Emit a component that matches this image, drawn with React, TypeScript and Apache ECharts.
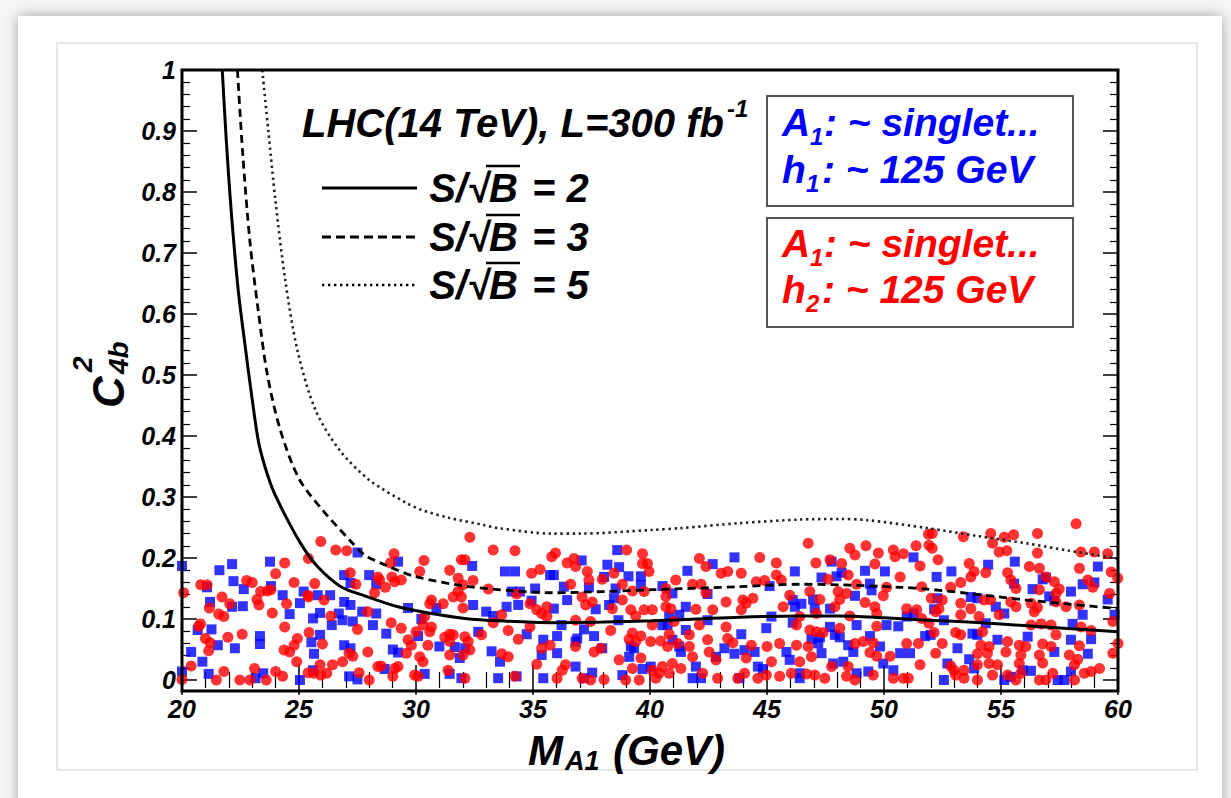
import React, { useEffect, useRef } from "react";
import * as echarts from "echarts";

// ---- data (M_A1 in GeV, C^2_4b) ----
const xTicks = [20, 25, 30, 35, 40, 45, 50, 55, 60];
const yTicks = [0, 0.1, 0.2, 0.3, 0.4, 0.5, 0.6, 0.7, 0.8, 0.9, 1];

const curveSB2: [number, number][] = [
  [21.72, 1.0], [21.9, 0.88], [22.1, 0.77], [22.4, 0.64], [22.69, 0.55], [23.0, 0.46], [23.3, 0.385],
  [23.8, 0.32], [24.29, 0.279], [25.07, 0.224], [25.79, 0.186], [26.79, 0.153], [27.8, 0.138],
  [29.23, 0.12], [30.66, 0.109], [32.09, 0.101], [33.51, 0.097], [35.8, 0.094], [38, 0.095],
  [40.1, 0.097], [42, 0.1], [43.82, 0.103], [46.4, 0.105], [48.1, 0.105], [50, 0.102],
  [51.85, 0.098], [53.6, 0.095], [56.1, 0.089], [58, 0.084], [60, 0.079],
];
const curveSB3: [number, number][] = [
  [22.37, 1.0], [22.6, 0.86], [22.9, 0.72], [23.26, 0.605], [23.65, 0.5], [24.2, 0.41],
  [25.0, 0.33], [26.0, 0.279], [27.2, 0.228], [27.8, 0.205], [28.6, 0.19], [29.94, 0.17],
  [32.09, 0.154], [34.23, 0.146], [35.8, 0.143], [38, 0.145], [40.1, 0.148], [43.82, 0.153],
  [46.4, 0.157], [48.1, 0.156], [50.7, 0.152], [51.85, 0.149], [53.6, 0.142], [56.1, 0.131],
  [58, 0.124], [60, 0.117],
];
const curveSB5: [number, number][] = [
  [23.43, 1.0], [23.69, 0.9], [23.99, 0.787], [24.41, 0.656], [24.93, 0.541], [25.7, 0.443],
  [26.73, 0.377], [28.0, 0.328], [29.6, 0.29], [30.23, 0.279], [31.4, 0.266], [32.9, 0.254],
  [33.5, 0.249], [35.8, 0.24], [37, 0.24], [40.1, 0.246], [41.3, 0.249], [43.8, 0.257],
  [46.4, 0.263], [48.1, 0.264], [49.3, 0.262], [51.85, 0.249], [54, 0.236], [56.1, 0.224],
  [57.9, 0.212], [60, 0.199],
];

// blue squares: A1 ~ singlet, h1 ~ 125 GeV
const blueH1: [number, number][] = [
  [20.0, 0.187], [22.14, 0.19], [21.6, 0.18], [23.76, 0.194], [22.2, 0.162], [21.07, 0.152], [22.64, 0.149],
  [23.8, 0.154], [21.2, 0.128], [22.14, 0.12], [22.6, 0.121], [24.3, 0.139], [25.2, 0.145], [24.6, 0.108],
  [25.04, 0.126], [25.8, 0.139], [26.33, 0.139], [25.9, 0.11], [25.6, 0.101], [26.93, 0.128], [27.2, 0.123],
  [26.7, 0.109], [26.4, 0.09], [26.86, 0.098], [27.3, 0.096], [27.7, 0.112], [27.5, 0.209], [26.93, 0.172],
  [27.2, 0.159], [20.67, 0.082], [21.26, 0.083], [21.53, 0.057], [20.39, 0.046], [20.87, 0.03], [22.26, 0.052],
  [23.33, 0.072], [23.33, 0.059], [21.14, 0.01], [20.0, 0.014], [23.47, 0.011], [23.14, 0.003], [25.04, 0.0],
  [25.53, 0.062], [25.9, 0.074], [25.64, 0.043], [25.6, 0.016], [26.93, 0.057], [27.2, 0.052], [27.14, 0.006],
  [27.5, 0.001],
  [28.0, 0.172], [28.3, 0.157], [29.23, 0.194], [28.3, 0.109], [28.16, 0.09], [28.73, 0.076], [29.01, 0.05],
  [29.23, 0.045], [29.66, 0.118], [30.23, 0.1], [30.87, 0.118], [30.09, 0.072], [31.0, 0.055], [31.66, 0.054],
  [32.1, 0.052], [31.87, 0.036], [32.4, 0.187], [32.44, 0.123], [32.66, 0.079], [33.0, 0.112], [33.3, 0.105],
  [33.8, 0.178], [34.23, 0.178], [33.87, 0.12], [34.09, 0.145], [34.44, 0.145], [34.37, 0.123], [34.94, 0.13],
  [35.09, 0.15], [34.73, 0.075], [35.44, 0.066], [35.37, 0.041], [35.73, 0.172], [30.37, 0.01], [31.44, 0.01],
  [31.94, 0.003], [33.51, 0.003], [34.3, 0.006], [35.44, 0.003], [28.66, 0.018], [33.59, 0.03], [33.23, 0.047],
  [38.6, 0.213], [37.08, 0.196], [38.18, 0.189], [38.68, 0.185], [35.89, 0.172], [36.32, 0.153], [37.39, 0.152],
  [38.04, 0.169], [38.53, 0.15], [39.08, 0.17], [39.61, 0.17], [39.61, 0.156], [36.46, 0.131], [37.68, 0.116],
  [35.89, 0.117], [38.46, 0.134], [38.25, 0.123], [38.65, 0.098], [36.22, 0.09], [36.03, 0.072], [37.18, 0.083],
  [37.61, 0.072], [36.89, 0.068], [36.82, 0.063], [36.03, 0.044], [37.96, 0.052], [39.11, 0.038], [39.32, 0.052],
  [39.18, 0.055], [40.53, 0.154], [40.96, 0.142], [40.75, 0.09], [40.82, 0.104], [41.25, 0.107], [41.53, 0.12],
  [41.6, 0.179], [40.96, 0.066], [41.25, 0.055], [41.32, 0.046], [41.53, 0.082], [42.46, 0.141], [42.68, 0.19],
  [43.61, 0.201], [42.46, 0.098], [43.18, 0.052], [43.61, 0.043], [42.82, 0.038], [40.53, 0.09], [36.82, 0.022],
  [37.18, 0.003], [37.53, 0.012], [38.82, 0.008], [39.68, 0.018], [40.03, 0.022], [41.96, 0.022], [41.82, 0.003],
  [42.18, 0.003], [43.82, 0.003],
  [46.19, 0.178], [45.11, 0.154], [47.33, 0.168], [47.97, 0.17], [48.19, 0.176], [49.19, 0.179], [50.04, 0.178],
  [51.26, 0.201], [47.76, 0.194], [49.4, 0.158], [49.47, 0.147], [48.76, 0.138], [46.1, 0.131], [46.47, 0.125],
  [46.19, 0.12], [46.97, 0.132], [47.04, 0.117], [47.69, 0.117], [45.19, 0.104], [44.97, 0.085], [46.1, 0.094],
  [47.69, 0.087], [47.9, 0.074], [48.11, 0.07], [47.26, 0.07], [47.19, 0.06], [46.9, 0.067], [48.83, 0.09],
  [49.4, 0.072], [50.11, 0.09], [50.61, 0.088], [50.97, 0.104], [51.26, 0.109], [51.76, 0.072], [43.9, 0.075],
  [44.04, 0.049], [44.47, 0.046], [44.61, 0.022], [44.83, 0.018], [45.97, 0.033], [45.83, 0.046], [47.33, 0.044],
  [48.47, 0.057], [48.69, 0.046], [48.26, 0.03], [47.83, 0.027], [48.83, 0.011], [49.33, 0.014], [49.83, 0.055],
  [49.97, 0.027], [50.4, 0.016], [50.69, 0.044], [51.11, 0.044], [46.4, 0.011], [46.4, 0.003],
  [52.25, 0.169], [52.88, 0.178], [54.45, 0.189], [55.59, 0.194], [56.78, 0.165], [56.92, 0.168], [59.14, 0.186],
  [58.49, 0.157], [58.99, 0.16], [57.99, 0.145], [56.35, 0.149], [55.56, 0.158], [52.28, 0.134], [52.14, 0.116],
  [53.71, 0.136], [53.99, 0.134], [57.06, 0.137], [54.78, 0.12], [55.14, 0.109], [59.56, 0.132], [59.85, 0.107],
  [58.49, 0.107], [57.28, 0.13], [52.56, 0.098], [54.35, 0.093], [58.06, 0.092], [53.78, 0.076], [53.99, 0.074],
  [51.99, 0.074], [53.14, 0.052], [54.85, 0.066], [56.14, 0.071], [57.99, 0.066], [58.85, 0.067], [57.28, 0.046],
  [58.71, 0.043], [53.64, 0.034], [52.71, 0.027], [55.92, 0.016], [56.28, 0.015], [52.56, 0.0], [55.14, 0.0],
  [57.42, 0.0], [57.99, 0.014], [53.85, 0.019], [55.42, 0.005], [57.71, 0.0],
];

// red circles: A1 ~ singlet, h2 ~ 125 GeV
const redH2: [number, number][] = [
  [20.07, 0.143], [20.8, 0.156], [21.07, 0.156], [21.71, 0.136], [22.04, 0.125], [21.17, 0.118], [21.57, 0.108],
  [21.79, 0.104], [20.79, 0.092], [20.71, 0.088], [21.0, 0.068], [21.2, 0.061], [21.96, 0.07], [22.57, 0.075],
  [21.14, 0.048], [20.39, 0.023], [20.0, 0.001], [21.47, 0.0], [21.79, 0.014], [22.47, 0.0], [22.9, 0.0],
  [23.1, 0.019], [23.6, 0.0], [24.0, 0.014], [24.3, 0.006], [22.76, 0.163], [23.0, 0.16], [23.36, 0.145],
  [23.64, 0.146], [23.8, 0.148], [23.2, 0.132], [23.29, 0.123], [24.0, 0.174], [24.39, 0.192], [24.79, 0.16],
  [24.47, 0.125], [23.86, 0.11], [24.39, 0.087], [24.93, 0.068], [24.79, 0.057], [24.36, 0.049], [24.6, 0.046],
  [24.9, 0.03], [25.39, 0.012], [25.64, 0.011], [25.93, 0.008], [26.19, 0.011], [26.43, 0.025], [25.9, 0.025],
  [25.39, 0.139], [25.4, 0.136], [25.67, 0.158], [26.07, 0.131], [25.4, 0.199], [25.93, 0.227], [26.57, 0.213],
  [27.04, 0.212], [27.19, 0.176], [27.43, 0.157], [25.43, 0.078], [26.0, 0.059], [26.86, 0.03], [27.14, 0.044],
  [27.3, 0.039], [27.5, 0.083], [27.57, 0.012], [26.36, 0.105],
  [32.3, 0.234], [33.3, 0.213], [34.23, 0.212], [29.06, 0.207], [28.91, 0.192], [30.34, 0.196], [31.94, 0.197],
  [32.09, 0.197], [31.44, 0.18], [30.16, 0.178], [28.37, 0.169], [28.44, 0.164], [28.97, 0.169], [29.37, 0.164],
  [29.09, 0.161], [28.69, 0.152], [28.23, 0.143], [31.8, 0.167], [32.44, 0.163], [32.01, 0.156], [33.09, 0.149],
  [30.66, 0.131], [30.59, 0.125], [31.16, 0.125], [31.59, 0.136], [31.94, 0.136], [31.8, 0.145], [32.01, 0.118],
  [27.94, 0.112], [28.94, 0.094], [29.37, 0.085], [30.37, 0.104], [30.3, 0.09], [30.66, 0.087], [30.59, 0.079],
  [29.66, 0.066], [30.0, 0.079], [29.8, 0.057], [30.51, 0.057], [31.23, 0.07], [31.44, 0.075], [31.59, 0.074],
  [31.44, 0.063], [32.09, 0.071], [32.23, 0.063], [32.8, 0.074], [32.3, 0.049], [32.01, 0.041], [31.44, 0.041],
  [29.59, 0.044], [30.16, 0.038], [30.3, 0.03], [27.94, 0.046], [28.37, 0.022], [28.51, 0.023], [29.09, 0.019],
  [29.23, 0.022], [29.01, 0.006], [28.0, 0.0], [29.94, 0.008], [30.09, 0.006], [31.37, 0.016], [32.09, 0.003],
  [33.3, 0.094], [33.66, 0.107], [33.94, 0.081], [34.37, 0.067], [33.66, 0.043], [33.94, 0.038], [34.3, 0.141],
  [34.87, 0.125], [34.94, 0.175], [35.3, 0.181], [35.8, 0.202], [35.16, 0.115], [35.37, 0.109], [35.59, 0.12],
  [35.59, 0.104], [34.87, 0.087], [35.73, 0.057], [35.37, 0.052], [35.16, 0.026], [34.23, 0.006],
  [35.96, 0.208], [36.46, 0.192], [36.75, 0.199], [36.82, 0.186], [37.32, 0.178], [37.39, 0.164], [37.96, 0.165],
  [39.0, 0.213], [39.68, 0.207], [39.68, 0.191], [39.89, 0.191], [39.96, 0.178], [38.46, 0.175], [38.82, 0.157],
  [36.61, 0.157], [39.25, 0.146], [39.75, 0.145], [38.82, 0.131], [39.18, 0.115], [39.75, 0.115], [40.1, 0.115],
  [39.39, 0.105], [38.39, 0.117], [37.1, 0.136], [37.25, 0.123], [37.53, 0.128], [36.82, 0.098], [37.46, 0.096],
  [38.32, 0.081], [39.25, 0.077], [39.61, 0.072], [39.11, 0.067], [39.39, 0.063], [40.03, 0.063], [40.1, 0.09],
  [36.82, 0.055], [37.61, 0.046], [37.89, 0.052], [38.68, 0.033], [39.61, 0.036], [39.25, 0.019], [40.1, 0.016],
  [40.39, 0.011], [40.53, 0.022], [40.25, 0.003], [39.54, 0.0], [38.96, 0.0], [38.04, 0.001], [37.46, 0.0],
  [37.1, 0.003], [36.39, 0.025], [36.25, 0.016], [36.03, 0.003], [40.68, 0.12], [40.68, 0.137], [40.68, 0.15],
  [41.1, 0.164], [40.89, 0.117], [41.03, 0.096], [40.82, 0.075], [40.46, 0.064], [40.75, 0.055], [41.18, 0.06],
  [40.96, 0.027], [40.82, 0.011], [41.32, 0.019], [41.68, 0.055], [41.68, 0.074], [41.82, 0.038], [42.11, 0.199],
  [42.39, 0.186], [41.82, 0.157], [42.18, 0.157], [42.39, 0.143], [41.96, 0.116], [42.11, 0.09], [42.46, 0.066],
  [42.68, 0.115], [42.53, 0.046], [42.82, 0.033], [42.25, 0.011], [42.89, 0.003], [43.04, 0.175], [43.32, 0.178],
  [43.25, 0.128], [43.25, 0.087], [43.32, 0.068], [43.54, 0.061], [43.75, 0.003],
  [46.76, 0.224], [44.69, 0.201], [45.4, 0.192], [47.09, 0.192], [47.69, 0.197], [48.19, 0.191], [48.54, 0.216],
  [48.76, 0.205], [49.23, 0.22], [49.76, 0.208], [49.61, 0.19], [50.4, 0.213], [50.47, 0.202], [50.83, 0.207],
  [51.37, 0.22], [51.54, 0.187], [51.9, 0.239], [43.9, 0.175], [44.54, 0.161], [44.9, 0.163], [45.4, 0.172],
  [45.61, 0.164], [45.97, 0.139], [46.83, 0.145], [47.61, 0.165], [48.47, 0.172], [48.83, 0.157], [50.11, 0.152],
  [50.69, 0.169], [49.97, 0.138], [51.61, 0.153], [43.97, 0.131], [44.4, 0.134], [44.11, 0.126], [43.9, 0.115],
  [45.69, 0.12], [47.26, 0.132], [47.9, 0.12], [48.11, 0.132], [48.04, 0.145], [48.4, 0.142], [49.19, 0.127],
  [49.61, 0.12], [49.69, 0.109], [50.97, 0.117], [51.4, 0.115], [51.61, 0.101], [47.11, 0.109], [46.4, 0.104],
  [48.54, 0.105], [46.26, 0.09], [46.83, 0.082], [47.11, 0.079], [47.4, 0.078], [48.11, 0.085], [49.69, 0.088],
  [49.54, 0.061], [49.11, 0.063], [48.76, 0.06], [45.54, 0.06], [46.26, 0.057], [46.76, 0.055], [45.0, 0.055],
  [44.33, 0.057], [44.11, 0.036], [45.19, 0.03], [46.4, 0.03], [46.9, 0.038], [49.4, 0.045], [49.69, 0.039],
  [50.26, 0.039], [50.97, 0.06], [51.47, 0.06], [51.54, 0.025], [47.76, 0.022], [48.47, 0.022], [44.04, 0.011],
  [44.61, 0.003], [44.97, 0.008], [45.54, 0.006], [46.04, 0.011], [46.69, 0.01], [47.04, 0.008], [47.47, 0.003],
  [48.4, 0.006], [48.76, 0.0], [49.54, 0.008], [50.4, 0.003], [50.83, 0.003], [51.04, 0.003],
  [58.21, 0.256], [52.06, 0.24], [53.39, 0.235], [54.56, 0.24], [55.14, 0.234], [55.54, 0.238], [56.56, 0.24],
  [54.64, 0.224], [54.92, 0.21], [55.25, 0.212], [56.56, 0.208], [51.92, 0.221], [52.06, 0.216], [52.31, 0.197],
  [53.64, 0.191], [53.85, 0.178], [54.35, 0.176], [53.71, 0.169], [53.28, 0.16], [55.28, 0.176], [55.42, 0.164],
  [56.21, 0.186], [56.64, 0.183], [56.92, 0.169], [57.28, 0.161], [57.49, 0.149], [57.35, 0.142], [58.42, 0.21],
  [58.99, 0.21], [59.56, 0.207], [58.35, 0.183], [58.71, 0.164], [58.92, 0.152], [59.71, 0.177], [59.99, 0.167],
  [59.64, 0.142], [55.64, 0.15], [56.64, 0.148], [52.85, 0.152], [52.02, 0.134], [52.49, 0.131], [52.35, 0.117],
  [52.21, 0.112], [53.28, 0.126], [53.71, 0.117], [54.28, 0.131], [54.56, 0.131], [55.42, 0.128], [55.64, 0.12],
  [56.28, 0.126], [56.56, 0.119], [56.42, 0.112], [57.35, 0.128], [57.78, 0.12], [58.35, 0.123], [53.28, 0.107],
  [54.06, 0.104], [54.92, 0.107], [56.28, 0.09], [56.71, 0.092], [57.14, 0.09], [58.42, 0.087], [58.85, 0.081],
  [59.78, 0.096], [51.92, 0.093], [52.14, 0.078], [53.06, 0.078], [53.28, 0.074], [54.21, 0.079], [54.49, 0.055],
  [55.28, 0.063], [55.78, 0.057], [56.06, 0.055], [56.78, 0.059], [57.14, 0.055], [57.35, 0.074], [58.35, 0.056],
  [52.49, 0.06], [52.21, 0.044], [54.14, 0.057], [53.99, 0.043], [54.42, 0.044], [55.21, 0.046], [55.85, 0.041],
  [56.64, 0.041], [57.92, 0.041], [58.28, 0.034], [59.78, 0.044], [52.85, 0.023], [52.99, 0.016], [53.42, 0.016],
  [53.99, 0.025], [54.49, 0.027], [54.85, 0.025], [55.28, 0.008], [55.78, 0.027], [54.64, 0.008], [55.85, 0.011],
  [56.78, 0.028], [56.92, 0.0], [57.21, 0.011], [58.14, 0.025], [58.56, 0.011], [58.85, 0.014], [59.21, 0.019],
  [53.42, 0.003], [53.99, 0.0], [55.64, 0.0], [56.64, 0.0], [58.14, 0.0], [53.06, 0.008], [60.0, 0.06],
];

const FONT = '"Liberation Sans", Arial, sans-serif';
const f = (size: number) => `italic bold ${size}px ${FONT}`;

function txt(text: string, x: number, y: number, size: number, fill = "#000", align = "left") {
  return {
    type: "text",
    z: 50,
    style: { text, x, y, font: f(size), fill, textAlign: align, textVerticalAlign: "middle" },
  };
}

export default function App() {
  const ref = useRef<HTMLDivElement>(null);
  useEffect(() => {
    document.body.style.margin = "0";
    const chart = echarts.init(ref.current!, null, { renderer: "svg" });
    const L = 182, R = 1118, T = 70, Y0 = 680, B = 691;
    const tickCommon = {
      axisTick: { show: true, inside: true, length: 15, lineStyle: { color: "#000", width: 1.5 } },
      minorTick: { show: true, splitNumber: 5, length: 8, lineStyle: { color: "#000", width: 1.2 } },
      splitLine: { show: false },
      axisLine: { show: false },
    };
    const legendRow = (y: number, dash: number[] | null, width: number, val: string) => [
      {
        type: "line", z: 50,
        shape: { x1: 322, y1: y, x2: 417, y2: y },
        style: { stroke: "#000", lineWidth: width, lineDash: dash || undefined },
      },
      txt("S/\u221A", 489, y, 40, "#000", "right"),
      txt("B", 489, y, 40),
      txt("= " + val, 532, y, 40),
      {
        type: "line", z: 50,
        shape: { x1: 486, y1: y - 22, x2: 520, y2: y - 22 },
        style: { stroke: "#000", lineWidth: 2.5 },
      },
    ];
    const box = (y1: number, y2: number) => ({
      type: "rect", z: 40,
      shape: { x: 767, y: y1, width: 306, height: y2 - y1 },
      style: { fill: "#fff", stroke: "#555", lineWidth: 2 },
    });
    const option: any = {
      animation: false,
      backgroundColor: "transparent",
      grid: { left: L, right: 1231 - R, top: T, bottom: 798 - Y0, containLabel: false },
      xAxis: [
        {
          type: "value", min: 20, max: 60, interval: 5, position: "bottom", offset: B - Y0,
          ...tickCommon,
          axisLabel: { show: true, margin: 5, fontSize: 25, fontWeight: "bold", fontStyle: "italic", fontFamily: FONT, color: "#000" },
        },
        {
          type: "value", min: 20, max: 60, interval: 5, position: "top",
          ...tickCommon,
          axisLabel: { show: false },
        },
      ],
      yAxis: [
        {
          type: "value", min: 0, max: 1, interval: 0.1, position: "left",
          ...tickCommon,
          axisLabel: {
            show: true, margin: 6, fontSize: 25, fontWeight: "bold", fontStyle: "italic", fontFamily: FONT, color: "#000",
            formatter: (v: number) => (v === 0 ? "0" : v === 1 ? "1" : v.toFixed(1)),
          },
        },
        {
          type: "value", min: 0, max: 1, interval: 0.1, position: "right",
          ...tickCommon,
          axisLabel: { show: false },
        },
      ],
      series: [
        {
          type: "scatter", name: "h1", data: blueH1, symbol: "rect", symbolSize: 10, clip: false,
          itemStyle: { color: "#0000ff" }, z: 3,
        },
        {
          type: "scatter", name: "h2", data: redH2, symbol: "circle", symbolSize: 11, clip: false,
          itemStyle: { color: "#ff0000" }, z: 4,
        },
        {
          type: "line", data: curveSB2, smooth: 0.3, showSymbol: false, symbol: "none", z: 5,
          lineStyle: { color: "#000", width: 3 },
        },
        {
          type: "line", data: curveSB3, smooth: 0.3, showSymbol: false, symbol: "none", z: 5,
          lineStyle: { color: "#000", width: 2.8, type: [8, 5] },
        },
        {
          type: "line", data: curveSB5, smooth: 0.3, showSymbol: false, symbol: "none", z: 5,
          lineStyle: { color: "#222", width: 2.6, type: [2.4, 3.6] },
        },
      ],
      graphic: [
        { type: "rect", z: -10, silent: true, shape: { x: 0, y: 0, width: 1231, height: 798 }, style: { fill: "#f6f6f6" } },
        {
          type: "rect", z: -9, silent: true, shape: { x: 18, y: 16, width: 1204, height: 800 },
          style: { fill: "#fff", shadowBlur: 14, shadowColor: "rgba(0,0,0,0.35)" },
        },
        {
          type: "rect", z: -8, silent: true, shape: { x: 57, y: 43, width: 1140, height: 727 },
          style: { fill: "#fff", stroke: "#dedede", lineWidth: 1.5 },
        },
        {
          type: "rect", z: 60, silent: true, shape: { x: L, y: T, width: R - L, height: B - T },
          style: { fill: "none", stroke: "#000", lineWidth: 3 },
        },
        txt("LHC(14 TeV), L=300 fb", 302, 123, 40),
        txt("-1", 727, 108, 24),
        ...legendRow(188, null, 3, "2"),
        ...legendRow(237, [9, 5], 2.8, "3"),
        ...legendRow(285, [2.4, 3.6], 2.6, "5"),
        box(96, 206),
        box(218, 327),
        txt("A", 782, 122, 39, "#0000ff"),
        txt("1", 810, 136, 24, "#0000ff"),
        txt(": ~ singlet...", 824, 122, 39, "#0000ff"),
        txt("h", 782, 169, 39, "#0000ff"),
        txt("1", 806, 183, 24, "#0000ff"),
        txt(": ~ 125 GeV", 822, 169, 39, "#0000ff"),
        txt("A", 782, 243, 39, "#ff0000"),
        txt("1", 810, 257, 24, "#ff0000"),
        txt(": ~ singlet...", 824, 243, 39, "#ff0000"),
        txt("h", 782, 289, 39, "#ff0000"),
        txt("2", 806, 303, 24, "#ff0000"),
        txt(": ~ 125 GeV", 822, 289, 39, "#ff0000"),
        // x-axis title
        txt("M", 528, 750, 42),
        txt("A1", 565, 761, 27),
        txt("(GeV)", 613, 750, 42),
        // y-axis title (rotated)
        {
          type: "group", x: 124, y: 408, rotation: Math.PI / 2, z: 50,
          children: [
            { type: "text", style: { text: "C", x: 0, y: -16, font: f(44), fill: "#000", textAlign: "left", textVerticalAlign: "middle" } },
            { type: "text", style: { text: "2", x: 36, y: -42, font: f(28), fill: "#000", textAlign: "left", textVerticalAlign: "middle" } },
            { type: "text", style: { text: "4b", x: 34, y: -6, font: f(28), fill: "#000", textAlign: "left", textVerticalAlign: "middle" } },
          ],
        },
      ],
    };
    chart.setOption(option);
    return () => chart.dispose();
  }, []);
  return <div ref={ref} style={{ position: "absolute", left: 0, top: 0, width: 1231, height: 798 }} />;
}
